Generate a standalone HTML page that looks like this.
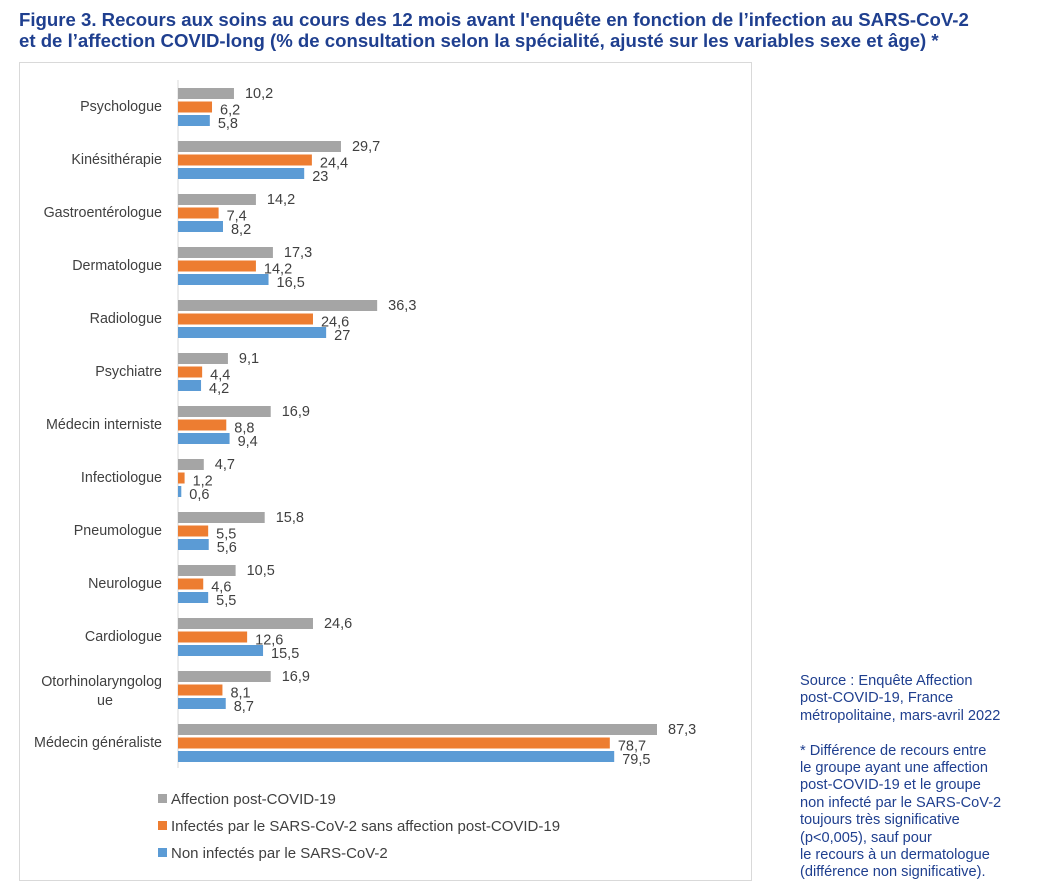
<!DOCTYPE html>
<html><head><meta charset="utf-8">
<style>
body{margin:0;width:1043px;height:892px;background:#fff;font-family:"Liberation Sans",sans-serif;overflow:hidden;position:relative}
.title{position:absolute;left:19px;top:9px;font-weight:bold;font-size:18.6px;line-height:21px;color:#1F3F8F;white-space:nowrap}
.side{position:absolute;left:800px;top:673px;font-size:14.6px;line-height:17.4px;color:#1F3F8F;white-space:nowrap}
svg{position:absolute;left:0;top:0}
</style></head><body>
<div class="title">Figure 3. Recours aux soins au cours des 12 mois avant l'enquête en fonction de l’infection au SARS-CoV-2<br>et de l’affection COVID-long (% de consultation selon la spécialité, ajusté sur les variables sexe et âge) *</div>
<div class="side">Source : Enquête Affection<br>post-COVID-19, France<br>métropolitaine, mars-avril 2022<br><br>* Différence de recours entre<br>le groupe ayant une affection<br>post-COVID-19 et le groupe<br>non infecté par le SARS-CoV-2<br>toujours très significative<br>(p&lt;0,005), sauf pour<br>le recours à un dermatologue<br>(différence non significative).</div>
<svg id="chart" width="1043" height="892"></svg>
<script>
const categories=["Psychologue","Kinésithérapie","Gastroentérologue","Dermatologue","Radiologue","Psychiatre","Médecin interniste","Infectiologue","Pneumologue","Neurologue","Cardiologue","Otorhinolaryngologue","Médecin généraliste"];
const seriesPost=[10.2,29.7,14.2,17.3,36.3,9.1,16.9,4.7,15.8,10.5,24.6,16.9,87.3];
const seriesInf=[6.2,24.4,7.4,14.2,24.6,4.4,8.8,1.2,5.5,4.6,12.6,8.1,78.7];
const seriesNon=[5.8,23,8.2,16.5,27,4.2,9.4,0.6,5.6,5.5,15.5,8.7,79.5];
const seriesNames=["Affection post-COVID-19","Infectés par le SARS-CoV-2 sans affection post-COVID-19","Non infectés par le SARS-CoV-2"];
const colors=["#A5A5A5","#ED7D31","#5B9BD5"];
const NS="http://www.w3.org/2000/svg";
const svg=document.getElementById('chart');
function mk(t,a,p){const e=document.createElementNS(NS,t);for(const k in a)e.setAttribute(k,a[k]);(p||svg).appendChild(e);return e;}
const x0=178, pxPerUnit=479/87.3;
const xs=v=>x0+v*pxPerUnit;
const yc=i=>106+i*53;
const frame=mk('rect',{x:19.5,y:62.5,width:732,height:818,fill:'#fff',stroke:'#D9D9D9'});


const axis=mk('line',{x1:x0,x2:x0,y1:80,y2:768,stroke:'#D9D9D9'});


const all=[seriesPost,seriesInf,seriesNon];
categories.forEach((c,i)=>{
  const y=yc(i);
  if(c==="Otorhinolaryngologue"){
    const t=mk('text',{x:162,y:y-3,'text-anchor':'end','font-size':14.3,fill:'#404040'});t.textContent="Otorhinolaryngolog";
    
    
    const t2=mk('text',{x:105,y:y+16,'text-anchor':'middle','font-size':14.3,fill:'#404040'});t2.textContent="ue";
    
    
  } else {
    const t=mk('text',{x:162,y:y+5,'text-anchor':'end','font-size':14.3,fill:'#404040'});t.textContent=c;
    
    
  }
  all.forEach((s,k)=>{
    const by=y-18+k*13.5;
    const r=mk('rect',{x:x0,y:by,width:Math.max(0,xs(s[i])-x0),height:11,fill:colors[k]});
    
    
    const l=mk('text',{x:xs(s[i])+(k==0?11:8),y:by+11+(k==0?-1:2),'font-size':14.5,fill:'#404040'});
    l.textContent=String(s[i]).replace('.',',');
    
    
  });
});
seriesNames.forEach((n,k)=>{
  const y=799+k*27;
  const sq=mk('rect',{x:158,y:y-5,width:9,height:9,fill:colors[k]});
  
  
  const t=mk('text',{x:171,y:y+5,'font-size':15,fill:'#404040'});t.textContent=n;
  
  
});
</script>
</body></html>
